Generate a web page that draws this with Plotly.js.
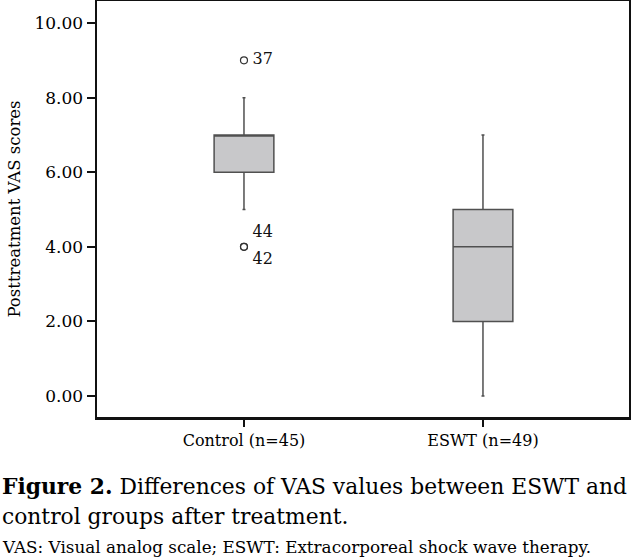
<!DOCTYPE html>
<html>
<head>
<meta charset="utf-8">
<script src="https://cdn.plot.ly/plotly-3.0.1.min.js"></script>
<style>html,body{margin:0;padding:0;background:#fff;}#chart{width:631px;height:559px;}</style>
</head>
<body>
<div id="chart"></div>
<script>
// Data
const groups = ['Control (n=45)', 'ESWT (n=49)'];
const q1 = [6, 2];
const medians = [7, 4];
const q3 = [7, 5];
const lowerWhisker = [5, 0];
const upperWhisker = [8, 7];
const outlierGroup = ['Control (n=45)', 'Control (n=45)', 'Control (n=45)'];
const outlierValues = [9, 4, 4];
const outlierIds = ['37', '44', '42'];
const yTickValues = [0, 2, 4, 6, 8, 10];
const yTickLabels = ['0.00', '2.00', '4.00', '6.00', '8.00', '10.00'];

const serif = 'DejaVu Serif, serif';

const boxTrace = {
  type: 'box',
  x: groups,
  q1: q1,
  median: medians,
  q3: q3,
  lowerfence: lowerWhisker,
  upperfence: upperWhisker,
  boxpoints: false,
  width: 0.25,
  whiskerwidth: 0.05,
  fillcolor: '#c8c8ca',
  line: {color: '#505050', width: 1.5},
  hoverinfo: 'skip',
  showlegend: false
};

const outlierTrace = {
  type: 'scatter',
  mode: 'markers+text',
  x: outlierGroup,
  y: outlierValues,
  text: outlierIds.map(function (id) { return '\u2009' + id; }),
  textposition: ['middle right', 'top right', 'bottom right'],
  textfont: {family: serif, size: 16, color: '#111'},
  marker: {symbol: 'circle-open', size: 7, color: '#333', line: {width: 1.2, color: '#333'}},
  showlegend: false,
  hoverinfo: 'skip'
};

const layout = {
  width: 631,
  height: 559,
  margin: {l: 97, r: 2, t: 1, b: 142},
  paper_bgcolor: '#fff',
  plot_bgcolor: '#fff',
  showlegend: false,
  xaxis: {
    type: 'category',
    range: [-0.615, 1.611],
    showgrid: false,
    zeroline: false,
    showline: true,
    linecolor: '#111',
    linewidth: 2.5,
    mirror: true,
    ticks: 'outside',
    ticklen: 7,
    tickwidth: 2.5,
    tickcolor: '#111',
    tickfont: {family: serif, size: 16, color: '#000'}
  },
  yaxis: {
    range: [-0.56, 10.59],
    tickvals: yTickValues,
    ticktext: yTickLabels,
    showgrid: false,
    zeroline: false,
    showline: true,
    linecolor: '#111',
    linewidth: 2.5,
    mirror: true,
    ticks: 'outside',
    ticklen: 8,
    tickwidth: 2,
    tickcolor: '#111',
    tickfont: {family: serif, size: 17, color: '#000'},
    title: {text: 'Posttreatment VAS scores', font: {family: serif, size: 16.5, color: '#000'}, standoff: 10}
  },
  annotations: [
    {xref: 'paper', yref: 'paper', x: -0.1823, y: -0.166, xanchor: 'left', yanchor: 'middle', showarrow: false,
     text: '<b>Figure 2.</b> Differences of VAS values between ESWT and', font: {family: serif, size: 21.8, color: '#000'}},
    {xref: 'paper', yref: 'paper', x: -0.1823, y: -0.238, xanchor: 'left', yanchor: 'middle', showarrow: false,
     text: 'control groups after treatment.', font: {family: serif, size: 21.8, color: '#000'}},
    {xref: 'paper', yref: 'paper', x: -0.1823, y: -0.3125, xanchor: 'left', yanchor: 'middle', showarrow: false,
     text: 'VAS: Visual analog scale; ESWT: Extracorporeal shock wave therapy.', font: {family: serif, size: 16.8, color: '#000'}}
  ]
};

Plotly.newPlot('chart', [boxTrace, outlierTrace], layout, {displayModeBar: false, staticPlot: true});
</script>
</body>
</html>
